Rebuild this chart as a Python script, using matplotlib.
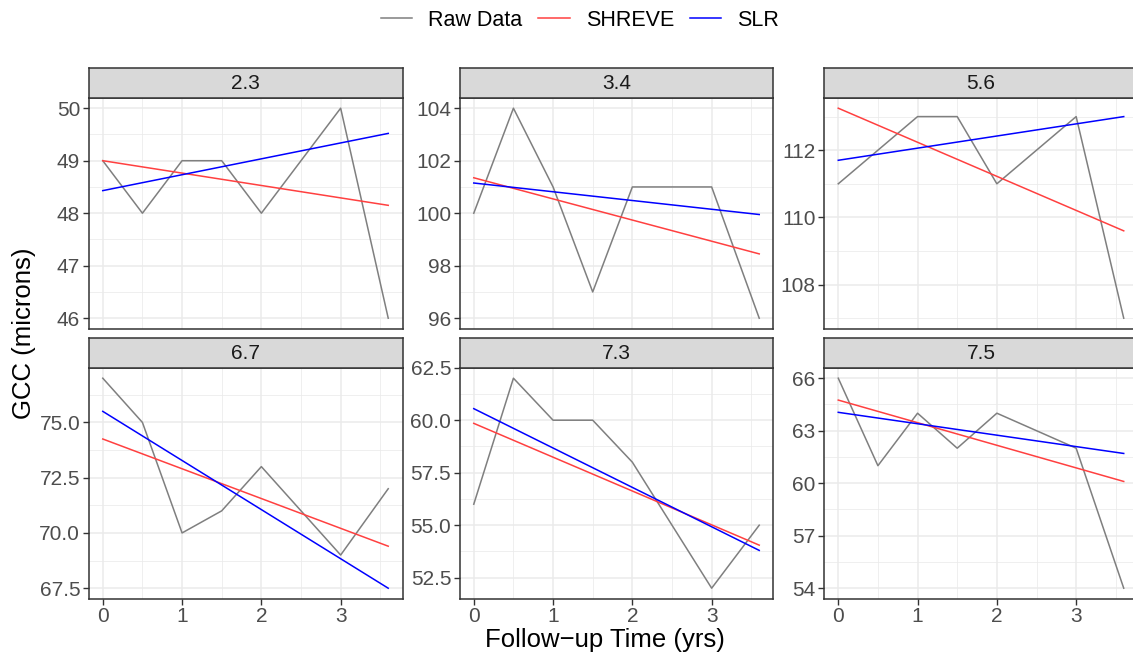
import matplotlib
matplotlib.use('Agg')
import matplotlib.pyplot as plt
from matplotlib.lines import Line2D
from matplotlib.ticker import MultipleLocator

plt.rcParams['font.family'] = ['Liberation Sans', 'DejaVu Sans']

# follow-up times (yrs)
time = [0, 0.5, 1, 1.5, 2, 3, 3.6]
fit_time = [0, 3.6]

panels = ['2.3', '3.4', '5.6', '6.7', '7.3', '7.5']

# raw GCC values per panel
raw_23 = [49, 48, 49, 49, 48, 50, 46]
raw_34 = [100, 104, 101, 97, 101, 101, 96]
raw_56 = [111, 112, 113, 113, 111, 113, 107]
raw_67 = [77, 75, 70, 71, 73, 69, 72]
raw_73 = [56, 62, 60, 60, 58, 52, 55]
raw_75 = [66, 61, 64, 62, 64, 62, 54]

# fitted lines (value at start, value at end)
shreve_23 = [49.0, 48.15]
shreve_34 = [101.35, 98.45]
shreve_56 = [113.25, 109.6]
shreve_67 = [74.25, 69.4]
shreve_73 = [59.85, 54.05]
shreve_75 = [64.75, 60.1]

slr_23 = [48.43, 49.52]
slr_34 = [101.15, 99.95]
slr_56 = [111.7, 113.0]
slr_67 = [75.5, 67.5]
slr_73 = [60.55, 53.8]
slr_75 = [64.05, 61.7]

raw_all = [raw_23, raw_34, raw_56, raw_67, raw_73, raw_75]
shreve_all = [shreve_23, shreve_34, shreve_56, shreve_67, shreve_73, shreve_75]
slr_all = [slr_23, slr_34, slr_56, slr_67, slr_73, slr_75]

# y tick steps per panel
ystep = [1, 2, 2, 2.5, 2.5, 3]

W, H = 1133, 656
fig = plt.figure(figsize=(W / 100, H / 100), dpi=100)

lefts = [88.5, 459.5, 824]
pw = 314
tops = [97.7, 367.7]
ph = 231
sh = 29.5

col_raw = '#7F7F7F'
col_shreve = '#FF4040'
col_slr = '#0000FF'
txt_col = '#4D4D4D'

for i, name in enumerate(panels):
    r, c = divmod(i, 3)
    x0 = lefts[c]
    y0 = tops[r] + ph
    ax = fig.add_axes([x0 / W, 1 - y0 / H, pw / W, ph / H])
    ax.plot(time, raw_all[i], color=col_raw, lw=1.1)
    ax.plot(fit_time, shreve_all[i], color=col_shreve, lw=1.1)
    ax.plot(fit_time, slr_all[i], color=col_slr, lw=1.1)

    vals = raw_all[i] + shreve_all[i] + slr_all[i]
    lo, hi = min(vals), max(vals)
    pad = (hi - lo) * 0.05
    ax.set_ylim(lo - pad, hi + pad)
    ax.set_xlim(-0.18, 3.78)
    ax.xaxis.set_major_locator(MultipleLocator(1))
    ax.xaxis.set_minor_locator(MultipleLocator(0.5))
    ax.yaxis.set_major_locator(MultipleLocator(ystep[i]))
    ax.yaxis.set_minor_locator(MultipleLocator(ystep[i] / 2))
    if ystep[i] == 2.5:
        ax.yaxis.set_major_formatter(plt.FormatStrFormatter('%.1f'))
    ax.grid(which='major', color='#EBEBEB', lw=1.1)
    ax.grid(which='minor', color='#EBEBEB', lw=0.55)
    ax.set_axisbelow(True)
    for s in ax.spines.values():
        s.set_color('#333333')
        s.set_linewidth(1.1)
    ax.tick_params(which='major', length=4, width=1, color='#333333',
                   labelsize=15, labelcolor=txt_col, pad=2)
    ax.tick_params(which='minor', length=0)
    if r == 0:
        ax.tick_params(axis='x', labelbottom=False, length=0)

    # strip
    st = fig.add_axes([x0 / W, 1 - (tops[r]) / H, pw / W, sh / H])
    st.set_facecolor('#D9D9D9')
    st.set_xticks([])
    st.set_yticks([])
    for s in st.spines.values():
        s.set_color('#333333')
        s.set_linewidth(1.1)
    st.text(0.5, 0.47, name, ha='center', va='center', fontsize=15,
            color='#1A1A1A', transform=st.transAxes)

fig.text(605 / W, 1 - 640 / H, 'Follow\u2212up Time (yrs)', ha='center',
         va='center', fontsize=18.5)
fig.text(24 / W, 1 - 333 / H, 'GCC (microns)', ha='center', va='center',
         rotation=90, fontsize=18.5)

handles = [Line2D([], [], color=col_raw, lw=1.1),
           Line2D([], [], color=col_shreve, lw=1.1),
           Line2D([], [], color=col_slr, lw=1.1)]
fig.legend(handles, ['Raw Data', 'SHREVE', 'SLR'], loc='center',
           bbox_to_anchor=(580 / W, 1 - 20 / H), ncol=3, frameon=False,
           fontsize=15.5, handlelength=1.45, columnspacing=0.75,
           handletextpad=0.75)

fig.savefig('out.png', dpi=100)
